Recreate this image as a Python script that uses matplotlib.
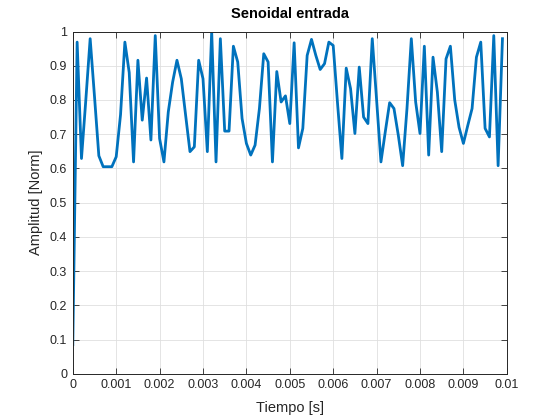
import numpy as np
import matplotlib
matplotlib.use("Agg")
import matplotlib.pyplot as plt

plt.rcParams['font.family'] = ['Liberation Sans', 'DejaVu Sans']

# muestras (paso 1e-4 s)
dt = 1e-4
amplitud = [
    0.085, 0.969, 0.629, 0.80, 0.979, 0.81, 0.637, 0.605, 0.605, 0.605,
    0.634, 0.757, 0.969, 0.88, 0.619, 0.916, 0.741, 0.864, 0.683, 0.988,
    0.687, 0.619, 0.765, 0.852, 0.916, 0.862, 0.755, 0.649, 0.663, 0.916,
    0.862, 0.649, 1.0, 0.619, 0.979, 0.709, 0.709, 0.957, 0.911, 0.746,
    0.673, 0.639, 0.668, 0.775, 0.935, 0.911, 0.619, 0.883, 0.794, 0.812,
    0.731, 0.967, 0.660, 0.717, 0.930, 0.977, 0.930, 0.889, 0.906, 0.969,
    0.959, 0.79, 0.629, 0.893, 0.833, 0.702, 0.896, 0.75, 0.731, 0.979,
    0.80, 0.619, 0.707, 0.792, 0.775, 0.697, 0.608, 0.775, 0.979, 0.794,
    0.702, 0.957, 0.639, 0.925, 0.823, 0.649, 0.92, 0.957, 0.80, 0.72,
    0.673, 0.725, 0.775, 0.925, 0.969, 0.717, 0.692, 0.988, 0.608, 0.979,
]
tiempo = np.arange(len(amplitud)) * dt

x_ticks = [0, 0.001, 0.002, 0.003, 0.004, 0.005, 0.006, 0.007, 0.008, 0.009, 0.01]
x_labels = ['0', '0.001', '0.002', '0.003', '0.004', '0.005', '0.006', '0.007', '0.008', '0.009', '0.01']
y_ticks = [0, 0.1, 0.2, 0.3, 0.4, 0.5, 0.6, 0.7, 0.8, 0.9, 1]
y_labels = ['0', '0.1', '0.2', '0.3', '0.4', '0.5', '0.6', '0.7', '0.8', '0.9', '1']

axis_col = '#262626'

fig = plt.figure(figsize=(5.6, 4.2), dpi=100)
ax = fig.add_axes([0.13, 0.11, 0.775, 0.815])
ax.plot(tiempo, amplitud, color='#0072BD', lw=2.0)

ax.set_xlim(0, 0.01)
ax.set_ylim(0, 1)
ax.set_xticks(x_ticks)
ax.set_xticklabels(x_labels)
ax.set_yticks(y_ticks)
ax.set_yticklabels(y_labels)
ax.tick_params(direction='in', length=4, width=0.6, colors=axis_col,
               labelsize=9, top=True, right=True, pad=4)
for s in ax.spines.values():
    s.set_color(axis_col)
    s.set_linewidth(0.7)
ax.grid(True, color='#dfdfdf', lw=0.6)
ax.set_axisbelow(True)

ax.set_title('Senoidal entrada', fontsize=10.5, fontweight='bold', color='black', pad=10)
ax.set_xlabel('Tiempo [s]', fontsize=10.5, color=axis_col, labelpad=7)
ax.set_ylabel('Amplitud [Norm]', fontsize=10.5, color=axis_col, labelpad=5)

fig.savefig('out.png', dpi=100)
